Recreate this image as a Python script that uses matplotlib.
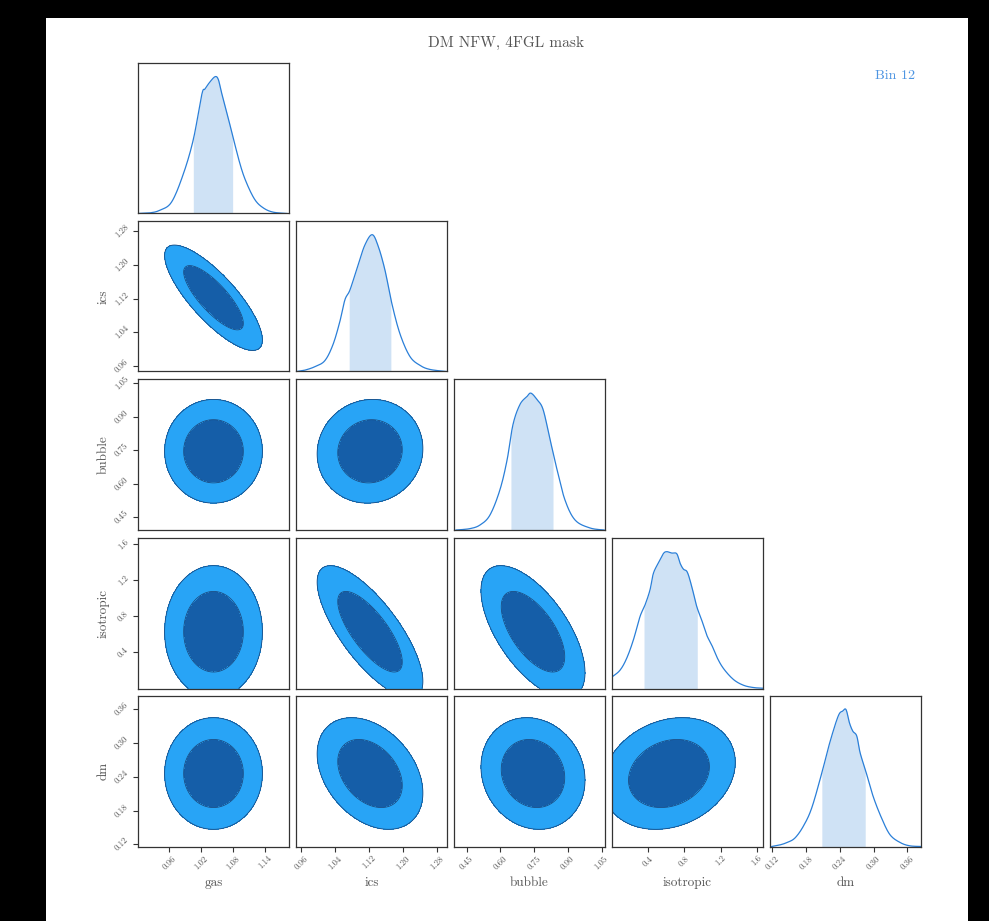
import numpy as np
import matplotlib
matplotlib.use("Agg")
import matplotlib.pyplot as plt
from matplotlib.patches import Rectangle

plt.rcParams["font.family"] = "serif"
plt.rcParams["font.serif"] = ["cmr10", "DejaVu Serif"]
plt.rcParams["axes.formatter.use_mathtext"] = True

# ---- parameters and their plotted ranges ----
params = ["gas", "ics", "bubble", "isotropic", "dm"]
extents = {
    "gas": (0.901, 1.185),
    "ics": (0.948, 1.303),
    "bubble": (0.394, 1.065),
    "isotropic": (0.0, 1.67),
    "dm": (0.116, 0.384),
}
tick_values = {
    "gas": [0.96, 1.02, 1.08, 1.14],
    "ics": [0.96, 1.04, 1.12, 1.20, 1.28],
    "bubble": [0.45, 0.60, 0.75, 0.90, 1.05],
    "isotropic": [0.4, 0.8, 1.2, 1.6],
    "dm": [0.12, 0.18, 0.24, 0.30, 0.36],
}
tick_labels = {
    "gas": ["0.96", "1.02", "1.08", "1.14"],
    "ics": ["0.96", "1.04", "1.12", "1.20", "1.28"],
    "bubble": ["0.45", "0.60", "0.75", "0.90", "1.05"],
    "isotropic": ["0.4", "0.8", "1.2", "1.6"],
    "dm": ["0.12", "0.18", "0.24", "0.30", "0.36"],
}

# ---- marginal posteriors (normalised to peak = 1) ----
gas_x = [0.900, 0.924, 0.942, 0.964, 0.986, 1.005, 1.021, 1.027, 1.036, 1.046,
         1.052, 1.058, 1.068, 1.077, 1.093, 1.105, 1.121, 1.137, 1.155, 1.181]
gas_p = [0.0, 0.005, 0.024, 0.083, 0.286, 0.54, 0.87, 0.91, 0.96, 1.0,
         0.98, 0.885, 0.74, 0.60, 0.36, 0.225, 0.10, 0.04, 0.01, 0.0]

ics_x = [0.950, 0.969, 0.993, 1.016, 1.035, 1.051, 1.063, 1.075, 1.094, 1.110,
         1.127, 1.141, 1.157, 1.174, 1.193, 1.216, 1.240, 1.263, 1.301]
ics_p = [0.0, 0.01, 0.036, 0.08, 0.197, 0.364, 0.524, 0.597, 0.779, 0.925,
         1.0, 0.918, 0.743, 0.488, 0.270, 0.109, 0.044, 0.015, 0.0]

bubble_x = [0.403, 0.465, 0.510, 0.554, 0.598, 0.630, 0.656, 0.687, 0.718, 0.736,
            0.763, 0.790, 0.821, 0.852, 0.887, 0.932, 0.998, 1.061]
bubble_p = [0.0, 0.01, 0.037, 0.11, 0.293, 0.513, 0.77, 0.917, 0.975, 1.0,
            0.953, 0.88, 0.66, 0.44, 0.22, 0.073, 0.015, 0.0]

iso_x = [0.003, 0.089, 0.162, 0.236, 0.310, 0.365, 0.420, 0.457, 0.512, 0.567,
         0.605, 0.660, 0.716, 0.752, 0.789, 0.833, 0.882, 0.937, 0.992, 1.048,
         1.103, 1.158, 1.232, 1.343, 1.453, 1.564, 1.674]
iso_p = [0.086, 0.134, 0.22, 0.354, 0.526, 0.61, 0.72, 0.84, 0.917, 0.985,
         1.0, 0.99, 0.985, 0.917, 0.873, 0.85, 0.745, 0.60, 0.50, 0.39,
         0.318, 0.232, 0.147, 0.066, 0.024, 0.007, 0.002]

dm_x = [0.119, 0.134, 0.146, 0.160, 0.175, 0.190, 0.208, 0.222, 0.237, 0.245,
        0.251, 0.257, 0.263, 0.270, 0.276, 0.286, 0.299, 0.314, 0.329, 0.347,
        0.364, 0.385]
dm_p = [0.0, 0.012, 0.029, 0.061, 0.147, 0.281, 0.538, 0.758, 0.953, 0.99,
        1.0, 0.904, 0.843, 0.807, 0.684, 0.55, 0.367, 0.208, 0.086, 0.029,
        0.005, 0.0]

marginals = {
    "gas": (gas_x, gas_p),
    "ics": (ics_x, ics_p),
    "bubble": (bubble_x, bubble_p),
    "isotropic": (iso_x, iso_p),
    "dm": (dm_x, dm_p),
}

# 68% credible intervals
intervals = {
    "gas": (1.005, 1.079),
    "ics": (1.073, 1.171),
    "bubble": (0.647, 0.834),
    "isotropic": (0.354, 0.943),
    "dm": (0.208, 0.285),
}

# ---- Gaussian summary used for the 2D contours ----
means = {"gas": 1.043, "ics": 1.122, "bubble": 0.745, "isotropic": 0.63, "dm": 0.246}
sigmas = {"gas": 0.037, "ics": 0.050, "bubble": 0.093, "isotropic": 0.295, "dm": 0.040}
correlations = {
    ("gas", "ics"): -0.80,
    ("gas", "bubble"): 0.0,
    ("ics", "bubble"): 0.05,
    ("gas", "isotropic"): 0.0,
    ("ics", "isotropic"): -0.75,
    ("bubble", "isotropic"): -0.62,
    ("gas", "dm"): 0.0,
    ("ics", "dm"): -0.35,
    ("bubble", "dm"): -0.12,
    ("isotropic", "dm"): 0.2,
}

# ---- styling ----
line_col = "#2a7fd8"
band_col = "#cfe2f5"
outer_col = "#28a4f6"
inner_col = "#155ea8"
edge_col = "#1b4a80"
text_col = "#555555"
spine_col = "#333333"


def catmull_rom(xs, ys, steps=16):
    """Smooth curve through the given points (Catmull-Rom spline)."""
    pts = np.column_stack([xs, ys]).astype(float)
    m = len(pts)
    t = np.linspace(0, 1, steps, endpoint=False)[:, None]
    segs = []
    for i in range(m - 1):
        p0 = pts[max(i - 1, 0)]
        p1 = pts[i]
        p2 = pts[i + 1]
        p3 = pts[min(i + 2, m - 1)]
        segs.append(0.5 * (2 * p1 + (-p0 + p2) * t
                           + (2 * p0 - 5 * p1 + 4 * p2 - p3) * t ** 2
                           + (-p0 + 3 * p1 - 3 * p2 + p3) * t ** 3))
    segs.append(pts[-1:])
    out = np.vstack(segs)
    return out[:, 0], np.clip(out[:, 1], 0, None)


W, H = 989, 921
fig = plt.figure(figsize=(W / 100, H / 100), dpi=100, facecolor="black")
fig.patches.append(Rectangle((46 / W, 0), (968 - 46) / W, (921 - 18) / H,
                             transform=fig.transFigure, facecolor="white",
                             edgecolor="none", zorder=-10))

col_left = [138, 296, 454, 612, 770]
row_top = [63, 221, 379.5, 538, 696]
size_w, size_h = 151, 150.5

n = len(params)
level68 = -2 * np.log(1 - 0.6827)
level95 = -2 * np.log(1 - 0.9545)

for r in range(n):
    for c in range(r + 1):
        ax = fig.add_axes([col_left[c] / W, (H - row_top[r] - size_h) / H,
                           size_w / W, size_h / H])
        px = params[c]
        py = params[r]
        for s in ax.spines.values():
            s.set_color(spine_col)
            s.set_linewidth(0.9)
        if r == c:
            xs, ps = marginals[px]
            xf, pf = catmull_rom(xs, ps)
            lo, hi = intervals[px]
            xb = np.linspace(lo, hi, 200)
            ax.fill_between(xb, 0, np.interp(xb, xf, pf), color=band_col, lw=0)
            ax.plot(xf, pf, color=line_col, lw=0.9)
            ax.set_ylim(0, 1.1)
            ax.set_yticks([])
        else:
            x0, x1 = extents[px]
            y0, y1 = extents[py]
            gx = np.linspace(x0, x1, 300)
            gy = np.linspace(y0, y1, 300)
            X, Y = np.meshgrid(gx, gy)
            rho = correlations[(px, py)]
            dx = (X - means[px]) / sigmas[px]
            dy = (Y - means[py]) / sigmas[py]
            r2 = (dx ** 2 - 2 * rho * dx * dy + dy ** 2) / (1 - rho ** 2)
            ax.contourf(X, Y, r2, levels=[0, level68, level95],
                        colors=[inner_col, outer_col])
            ax.contour(X, Y, r2, levels=[level68, level95],
                       colors=[edge_col], linewidths=0.6)
            ax.set_ylim(*extents[py])
        ax.set_xlim(*extents[px])
        # ticks
        if r == n - 1:
            ax.set_xticks(tick_values[px])
            ax.set_xticklabels(tick_labels[px], rotation=45, fontsize=6.3,
                               color=text_col)
            ax.set_xlabel(px, fontsize=9.5, color=text_col)
            ax.xaxis.set_label_coords(0.5, -0.2)
        else:
            ax.set_xticks([])
        if c == 0 and r > 0:
            ax.set_yticks(tick_values[py])
            ax.set_yticklabels(tick_labels[py], rotation=45, fontsize=6.3,
                               color=text_col, va="center")
            ax.set_ylabel(py, fontsize=9.5, color=text_col)
            ax.yaxis.set_label_coords(-0.19, 0.5)
        elif r != c:
            ax.set_yticks([])
        ax.tick_params(direction="out", length=3.5, width=0.8, color=spine_col, pad=2)

fig.text(505.8 / W, 1 - 43 / H, "DM NFW, 4FGL mask", ha="center", va="center",
         fontsize=11, color=text_col)
fig.text(895 / W, 1 - 76 / H, "Bin 12", ha="center", va="center",
         fontsize=10, color="#4e95e2")

fig.savefig("out.png", dpi=100, facecolor=fig.get_facecolor())
